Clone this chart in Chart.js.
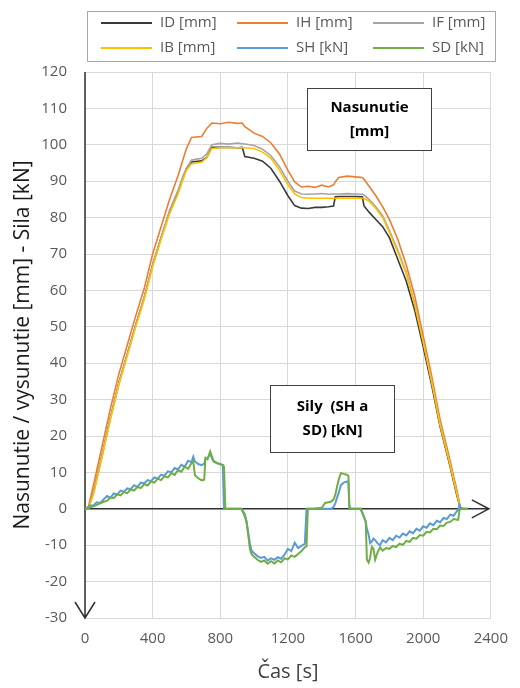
<!DOCTYPE html>
<html>
<head>
<meta charset="utf-8">
<script src="https://cdn.jsdelivr.net/npm/chart.js@4"></script>
<style>
html, body { margin: 0; padding: 0; background: #fff; }
</style>
</head>
<body>
<canvas id="graf" width="520" height="688"></canvas>
<script>
/* posuny [mm] */
const casPosun = [0, 20, 50, 100, 150, 200, 250, 300, 350, 400,
  450, 500, 550, 580, 600, 630, 690, 720, 750, 800,
  850, 900, 930, 945, 1000, 1050, 1100, 1150, 1200, 1240,
  1280, 1320, 1360, 1400, 1440, 1470, 1480, 1500, 1550, 1600,
  1640, 1650, 1680, 1720, 1760, 1800, 1850, 1900, 1950, 2000,
  2050, 2100, 2150, 2200, 2220, 2240];
const ID = [0, 0, 4.5, 14.5, 25, 34.5, 42.5, 50.5, 58, 67,
  74.5, 81.5, 87, 91, 93.5, 95.3, 95.6, 96.5, 99.3, 99.3,
  99.3, 99.2, 99.3, 96.8, 96.3, 95.5, 93.5, 90, 86, 83.3,
  82.6, 82.5, 82.8, 82.8, 83, 83.2, 85.7, 85.8, 85.8, 85.8,
  85.7, 83.2, 81.5, 79.5, 77.5, 74.5, 68.5, 62.5, 54.5, 44.5,
  34, 22.5, 13.3, 3.5, 0, 0];
const IH = [0, 0.5, 6.5, 17, 27.5, 37, 45, 53, 60.5, 70,
  77.5, 85, 91.5, 96, 99, 102, 102.3, 104.5, 106, 105.8,
  106.2, 105.9, 106, 105, 103.2, 102.3, 100.5, 97.5, 93, 89.8,
  88.4, 88.6, 88.3, 88.9, 88.4, 89, 89.8, 91, 91.4, 91.2,
  91, 90.5, 88.6, 86, 83, 79.5, 74, 67, 58.5, 47.5,
  36.5, 24.5, 15, 5, 0.3, 0];
const IF = [0, 0, 4.5, 14.5, 25, 34.5, 42.5, 50.5, 58, 67,
  74.5, 82, 87.5, 91.5, 93.5, 95.8, 96.3, 97.5, 100, 100.4,
  100.2, 100.5, 100.3, 100.2, 99.8, 98.8, 97, 94, 90, 87.3,
  86.5, 86.4, 86.5, 86.6, 86.4, 86.5, 86.5, 86.5, 86.6, 86.5,
  86.4, 86.2, 85, 83, 80.5, 76.5, 71, 65, 56.5, 46,
  35, 23.5, 14, 4.5, 0.2, 0];
const IB = [0, 0, 4, 14, 24.5, 34, 42, 50, 57.5, 66.5,
  74, 81, 86.5, 90.5, 93, 94.8, 95.2, 96.5, 99, 99.2,
  99.2, 99.2, 99.2, 99.2, 99, 98, 96.3, 93, 89, 86.5,
  85.5, 85.3, 85.3, 85.3, 85.3, 85.3, 85.3, 85.3, 85.3, 85.3,
  85.3, 85.3, 84.5, 82.5, 80, 76, 70.5, 64.5, 56, 45.8,
  35, 23, 13.8, 4, 0.2, 0];

/* sily [kN] */
const casSila = [0, 10, 30, 50, 70, 90, 110, 130, 150, 170,
  190, 210, 230, 250, 270, 290, 310, 330, 350, 370,
  390, 410, 430, 450, 470, 490, 510, 530, 550, 570,
  590, 610, 630, 640, 650, 670, 690, 705, 712, 725,
  740, 760, 780, 800, 815, 822, 830, 850, 900, 925,
  945, 955, 965, 975, 985, 1000, 1020, 1040, 1060, 1080,
  1100, 1120, 1140, 1160, 1180, 1200, 1220, 1240, 1260, 1280,
  1300, 1310, 1318, 1350, 1400, 1420, 1440, 1456, 1470, 1480,
  1490, 1500, 1513, 1530, 1552, 1558, 1563, 1570, 1600, 1630,
  1645, 1660, 1667, 1677, 1686, 1696, 1706, 1716, 1730, 1745,
  1760, 1780, 1800, 1820, 1840, 1860, 1880, 1900, 1920, 1940,
  1960, 1980, 2000, 2020, 2040, 2060, 2080, 2100, 2120, 2140,
  2160, 2180, 2200, 2207, 2215, 2225, 2240, 2265];
const SH = [0, 0.2, 0.9, 1.0, 1.8, 1.6, 2.6, 3.5, 3.0, 4.2,
  3.9, 5.0, 4.7, 5.6, 5.4, 6.5, 6.0, 7.2, 7.0, 7.9,
  7.6, 8.6, 8.3, 9.4, 9.1, 10.3, 10.0, 11.2, 10.8, 12.1,
  11.6, 13.2, 12.8, 14.3, 13.0, 12.3, 12.0, 12.4, 13.6, 14.0,
  15.0, 13.0, 12.5, 12.2, 12.0, 0, 0, 0, 0, 0,
  -1.5, -3.5, -6.5, -9.5, -11.5, -12.2, -13.0, -13.5, -13.2, -14.2,
  -13.6, -14.0, -13.3, -13.7, -12.6, -11.0, -11.6, -9.3, -10.8, -10.2,
  -9.6, 0, 0, 0, 0, 0, 0, 0, 0.5, 1.5,
  3.0, 4.3, 6.5, 7.2, 7.5, 7.2, 1.0, 0, 0, 0,
  -1.5, -3.5, -5.5, -7.0, -9.4, -9.0, -8.2, -8.6, -9.5, -10.0,
  -8.6, -9.2, -8.0, -8.6, -7.4, -7.9, -6.8, -7.3, -6.2, -6.7,
  -5.5, -6.0, -4.8, -5.2, -4.0, -4.5, -3.3, -3.7, -2.5, -2.8,
  -1.6, -1.9, -0.6, -0.3, 1.0, 0, 0, 0];
const SD = [0, 0, 0.4, 0.7, 1.1, 1.5, 1.9, 2.2, 3.1, 2.9,
  4.0, 3.7, 4.6, 4.3, 5.3, 5.0, 6.0, 5.7, 6.8, 6.4,
  7.5, 7.2, 8.3, 7.9, 9.0, 8.6, 9.8, 9.3, 10.6, 10.2,
  11.6, 11.0, 12.6, 13.0, 9.2, 8.4, 7.8, 8.0, 14.0, 13.6,
  15.8, 13.2, 12.6, 12.3, 12.0, 11.6, 0, 0, 0, 0,
  -2.1, -3.5, -7.0, -11.0, -12.5, -13.2, -14.0, -14.6, -14.2, -15.1,
  -14.4, -15.0, -14.2, -14.7, -13.6, -13.9, -12.8, -13.2, -12.4, -11.6,
  -10.6, -10.3, 0, 0, 0.3, 1.6, 1.8, 2.0, 2.6, 3.8,
  6.0, 8.0, 9.8, 9.6, 9.3, 9.0, 0, 0, 0, 0,
  -1.8, -3.5, -14.0, -14.8, -13.5, -10.4, -11.0, -14.0, -12.0, -10.6,
  -11.5, -10.8, -11.0, -10.2, -10.5, -9.6, -9.9, -8.8, -9.1, -8.0,
  -8.2, -7.2, -7.4, -6.3, -6.5, -5.5, -5.6, -4.6, -4.7, -3.8,
  -3.6, -2.8, -3.0, -3.0, -0.3, 0, 0, 0];

const pismo = "'Open Sans', 'Noto Sans', sans-serif";
const sedaText = '#595959';

function body(cas, hodnoty) {
  return cas.map((t, i) => ({ x: t, y: hodnoty[i] }));
}

// legenda v ramiku, 2 riadky x 3 stlpce
const legenda = {
  id: 'legenda',
  afterDraw(chart) {
    const ctx = chart.ctx;
    const stlpce = [101, 237, 373];
    const riadky = [23, 48];
    ctx.save();
    ctx.strokeStyle = '#a6a6a6';
    ctx.lineWidth = 1;
    ctx.strokeRect(87.5, 11.5, 408, 50);
    ctx.font = '15px ' + pismo;
    ctx.textBaseline = 'middle';
    chart.data.datasets.forEach((ds, i) => {
      const x = stlpce[i % 3];
      const y = riadky[Math.floor(i / 3)];
      ctx.strokeStyle = ds.borderColor;
      ctx.lineWidth = 2;
      ctx.beginPath();
      ctx.moveTo(x, y);
      ctx.lineTo(x + 51, y);
      ctx.stroke();
      ctx.fillStyle = sedaText;
      ctx.fillText(ds.label, x + 59, y);
    });
    ctx.restore();
  }
};

// osi so sipkami
const osi = {
  id: 'osi',
  beforeDatasetsDraw(chart) {
    const { ctx, chartArea: a, scales: { y } } = chart;
    const y0 = y.getPixelForValue(0);
    ctx.save();
    ctx.strokeStyle = '#303030';
    ctx.lineWidth = 1.5;
    ctx.beginPath();
    ctx.moveTo(a.left, y0);
    ctx.lineTo(a.right - 2, y0);
    ctx.moveTo(a.right - 19, y0 - 9);
    ctx.lineTo(a.right - 2, y0);
    ctx.lineTo(a.right - 19, y0 + 9);
    ctx.moveTo(a.left, a.top);
    ctx.lineTo(a.left, a.bottom);
    ctx.moveTo(a.left - 10, a.bottom - 16);
    ctx.lineTo(a.left, a.bottom);
    ctx.lineTo(a.left + 10, a.bottom - 16);
    ctx.stroke();
    ctx.restore();
  }
};

// popisky v ramikoch
const popisky = {
  id: 'popisky',
  afterDatasetsDraw(chart) {
    const ctx = chart.ctx;
    const ramiky = [
      { x: 307.5, y: 88.5, w: 124, h: 62, riadky: ['Nasunutie', '[mm]'] },
      { x: 270.5, y: 385.5, w: 124, h: 67, riadky: ['Sily  (SH a', 'SD) [kN]'] }
    ];
    ctx.save();
    ramiky.forEach(r => {
      ctx.fillStyle = '#fff';
      ctx.fillRect(r.x, r.y, r.w, r.h);
      ctx.strokeStyle = '#404040';
      ctx.lineWidth = 1;
      ctx.strokeRect(r.x, r.y, r.w, r.h);
      ctx.fillStyle = '#000';
      ctx.font = 'bold 15px ' + pismo;
      ctx.textAlign = 'center';
      ctx.textBaseline = 'middle';
      const stred = r.y + r.h / 2;
      ctx.fillText(r.riadky[0], r.x + r.w / 2, stred - 12);
      ctx.fillText(r.riadky[1], r.x + r.w / 2, stred + 12);
    });
    ctx.restore();
  }
};

new Chart(document.getElementById('graf'), {
  type: 'line',
  data: {
    datasets: [
      { label: 'ID [mm]', data: body(casPosun, ID), borderColor: '#3a3a3a', order: 6 },
      { label: 'IH [mm]', data: body(casPosun, IH), borderColor: '#ED7D31', order: 5 },
      { label: 'IF [mm]', data: body(casPosun, IF), borderColor: '#A5A5A5', order: 4 },
      { label: 'IB [mm]', data: body(casPosun, IB), borderColor: '#FFC000', order: 3 },
      { label: 'SH [kN]', data: body(casSila, SH), borderColor: '#5B9BD5', borderWidth: 2, order: 2 },
      { label: 'SD [kN]', data: body(casSila, SD), borderColor: '#70AD47', borderWidth: 2, order: 1 }
    ]
  },
  options: {
    responsive: false,
    animation: false,
    devicePixelRatio: 1,
    layout: { padding: { top: 72, right: 20, bottom: 0, left: 0 } },
    elements: {
      point: { radius: 0 },
      line: { borderWidth: 1.6, tension: 0, fill: false }
    },
    plugins: {
      legend: { display: false },
      tooltip: { enabled: false }
    },
    scales: {
      x: {
        type: 'linear',
        min: 0,
        max: 2400,
        afterFit(s) { s.height = 70; },
        ticks: {
          stepSize: 400, color: sedaText, font: { family: pismo, size: 15 }, padding: 12, maxRotation: 0,
          callback: v => String(v)
        },
        grid: { color: '#d9d9d9', drawTicks: false },
        border: { display: false },
        title: { display: true, text: 'Čas [s]', color: '#404040', font: { family: pismo, size: 20 }, padding: { top: 0, bottom: 4 } }
      },
      y: {
        min: -30,
        max: 120,
        afterFit(s) { s.width = 85; },
        ticks: { stepSize: 10, color: sedaText, font: { family: pismo, size: 15 }, padding: 18 },
        grid: { color: '#d9d9d9', drawTicks: false },
        border: { display: false },
        title: { display: true, text: 'Nasunutie / vysunutie [mm] - Sila [kN]', color: '#1a1a1a', font: { family: pismo, size: 21 }, padding: { top: 10, bottom: 0 } }
      }
    }
  },
  plugins: [osi, popisky, legenda]
});
</script>
</body>
</html>
